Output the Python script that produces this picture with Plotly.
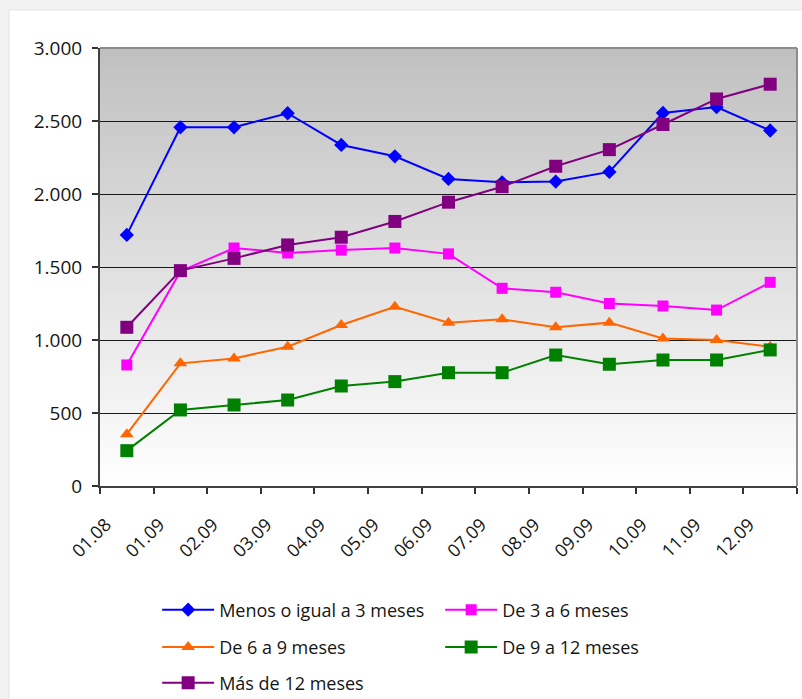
import plotly.graph_objects as go

categories = ["01.08", "01.09", "02.09", "03.09", "04.09", "05.09", "06.09",
              "07.09", "08.09", "09.09", "10.09", "11.09", "12.09"]
menos3 = [1720, 2457, 2457, 2553, 2336, 2258, 2103, 2080, 2085, 2151, 2555, 2595, 2435]
de3a6 = [829, 1470, 1630, 1596, 1616, 1630, 1590, 1354, 1327, 1250, 1233, 1205, 1395]
de6a9 = [355, 840, 874, 954, 1103, 1228, 1119, 1142, 1087, 1119, 1011, 1000, 954]
de9a12 = [242, 521, 555, 589, 685, 715, 776, 776, 897, 834, 863, 863, 932]
mas12 = [1087, 1475, 1559, 1651, 1704, 1812, 1944, 2050, 2190, 2304, 2476, 2651, 2752]

y_ticks = [0, 500, 1000, 1500, 2000, 2500, 3000]

series = [
    ("Menos o igual a 3 meses", menos3, "#0000FF", "diamond", 11, "legend"),
    ("De 3 a 6 meses", de3a6, "#FF00FF", "square", 11, "legend"),
    ("De 6 a 9 meses", de6a9, "#FF6600", "triangle-up", 12, "legend2"),
    ("De 9 a 12 meses", de9a12, "#008000", "square", 13, "legend2"),
    ("Más de 12 meses", mas12, "#800080", "square", 13, "legend3"),
]

FONT = "Open Sans"
TXT = "#151515"

fig = go.Figure()
for name, vals, col, sym, size, leg in series:
    fig.add_trace(go.Scatter(
        x=categories, y=vals, name=name, mode="lines+markers",
        line=dict(color=col, width=2),
        marker=dict(symbol=sym, size=size, color=col, line=dict(width=0)),
        legend=leg,
    ))

shapes = []
# white card on light grey page
shapes.append(dict(type="rect", xref="paper", yref="paper",
                   x0=-0.1306, x1=1.03, y0=-0.55, y1=1.087,
                   fillcolor="white", line=dict(color="#E2E2E2", width=1),
                   layer="below"))
# vertical gradient in plot area
N = 80
for i in range(N):
    t0 = i / N
    t1 = (i + 1) / N
    tm = (t0 + t1) / 2
    c = int(round(255 - (255 - 192) * tm))
    shapes.append(dict(type="rect", xref="x domain", yref="y domain",
                       x0=0, x1=1, y0=t0, y1=min(1, t1 + 0.004),
                       fillcolor=f"rgb({c},{c},{c})", line=dict(width=0),
                       layer="below"))
# top and right border
shapes.append(dict(type="line", xref="x domain", yref="y domain",
                   x0=0, x1=1, y0=1, y1=1, line=dict(color="#8C8C8C", width=2),
                   layer="above"))
shapes.append(dict(type="line", xref="x domain", yref="y domain",
                   x0=1, x1=1, y0=0, y1=1, line=dict(color="#8C8C8C", width=2),
                   layer="above"))

legend_common = dict(orientation="h", xanchor="left", yanchor="middle",
                     font=dict(family=FONT, size=18, color=TXT),
                     bgcolor="rgba(0,0,0,0)", itemwidth=52,
                     entrywidth=216, entrywidthmode="pixels",
                     itemclick=False, itemdoubleclick=False)

fig.update_layout(
    width=802, height=699,
    margin=dict(l=100, r=5, t=48, b=213, autoexpand=False),
    paper_bgcolor="#F2F2F2",
    plot_bgcolor="rgba(0,0,0,0)",
    separators=",.",
    font=dict(family=FONT, size=16, color=TXT),
    showlegend=True,
    shapes=shapes,
    legend=dict(x=0.082, y=-0.283, **legend_common),
    legend2=dict(x=0.082, y=-0.368, **legend_common),
    legend3=dict(x=0.082, y=-0.450, **legend_common),
    xaxis=dict(
        type="category", range=[-0.5, 12.5], automargin=False,
        tickson="boundaries", ticks="outside", ticklen=6, tickwidth=1.5,
        tickcolor="#333333", showline=True, linecolor="#404040", linewidth=2,
        showgrid=False, tickangle=-45, ticklabelshift=-21, ticklabelstandoff=19,
        tickfont=dict(family=FONT, size=18, color=TXT),
    ),
    yaxis=dict(
        range=[0, 3000], tickvals=y_ticks, tickformat=",d", automargin=False,
        ticks="outside", ticklen=6, tickwidth=1.5, tickcolor="#333333",
        showline=True, linecolor="#404040", linewidth=2,
        showgrid=True, gridcolor="#1A1A1A", gridwidth=1, zeroline=False,
        ticklabelstandoff=6,
        tickfont=dict(family=FONT, size=19, color=TXT),
    ),
)

fig.write_html(
    "out.html",
    config={"displayModeBar": False},
    post_script="document.body.style.margin='0';document.body.style.overflow='hidden';",
)
